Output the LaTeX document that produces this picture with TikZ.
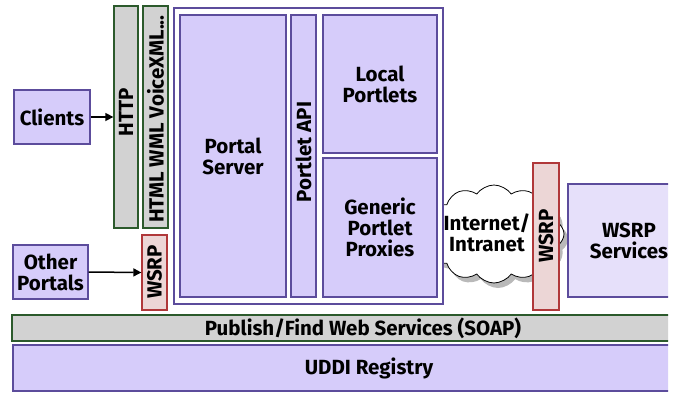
\documentclass[tikz,border=0pt]{standalone}
\usepackage{fontspec}
\setmainfont{Fira Sans}
\usetikzlibrary{shapes.symbols,shadows,arrows.meta}
\definecolor{pfill}{RGB}{214,204,250}
\definecolor{pline}{RGB}{92,76,156}
\definecolor{sfill}{RGB}{230,224,250}
\definecolor{gfill}{RGB}{210,210,210}
\definecolor{gline}{RGB}{44,90,44}
\definecolor{wfill}{RGB}{236,214,214}
\definecolor{wline}{RGB}{176,56,58}
\tikzset{
  lbl/.style={font=\fontsize{20.5}{21}\selectfont\bfseries, align=center, text=black},
  pbox/.style={draw=pline, fill=pfill, line width=1.3pt, rectangle, inner sep=0pt, lbl},
  gbar/.style={draw=gline, fill=gfill, line width=1.3pt, rectangle, inner sep=0pt, lbl},
  wbar/.style={draw=wline, fill=wfill, line width=1.3pt, rectangle, inner sep=0pt, lbl},
  vtext/.style={lbl, rotate=90, inner sep=0pt},
  conn/.style={-{Triangle[length=8pt,width=8pt]}, line width=1.5pt}
}
\begin{document}
\begin{tikzpicture}[x=1pt,y=-1pt]
\useasboundingbox (0,0) rectangle (678,392);
\begin{scope}
\clip (0,0) rectangle (668,392);
% cloud
\node[cloud, cloud puffs=12, cloud puff arc=110, draw=black, line width=0.8pt, fill=white,
      minimum width=140pt, minimum height=98pt, inner sep=0pt,
      drop shadow={shadow xshift=4pt, shadow yshift=-5pt, fill=black!55}] (cloud) at (494,234) {};
\node[lbl] (net) at (487,233) {Internet/\\Intranet};
% portal container
\node[draw=pline, fill=white, line width=1.3pt, rectangle, inner sep=0pt,
      minimum width=269pt, minimum height=296pt] (portal) at (308.5,156) {};
\node[pbox, minimum width=106pt, minimum height=282pt] (server) at (233,156) {Portal\\Server};
\node[pbox, minimum width=25pt, minimum height=282pt] (api) at (303.5,156) {};
\node[vtext] at (303.5,152) {Portlet API};
\node[pbox, minimum width=114pt, minimum height=138pt] (local) at (380,84) {Local\\Portlets};
\node[pbox, minimum width=114pt, minimum height=139pt] (generic) at (380,227.5) {Generic\\Portlet\\Proxies};
% clients
\node[pbox, minimum width=76pt, minimum height=54pt] (clients) at (52,117) {Clients};
\node[pbox, minimum width=75pt, minimum height=54pt] (other) at (50.5,272) {Other\\Portals};
% protocol bars
\node[gbar, minimum width=24pt, minimum height=222pt] (http) at (126,117) {};
\node[vtext] at (126,112) {HTTP};
\node[gbar, minimum width=25pt, minimum height=222pt] (html) at (155.5,117) {};
\begin{scope}
\clip (143.5,6.7) rectangle (167.5,227.3);
\node[vtext, anchor=west] at (155.5,223) {HTML WML VoiceXML...};
\end{scope}
\node[wbar, minimum width=25pt, minimum height=75pt] (wsrpl) at (154.5,272.5) {};
\node[vtext] at (154.5,272) {WSRP};
% right side
\node[wbar, minimum width=26pt, minimum height=147pt] (wsrpr) at (546,236.5) {};
\node[vtext] at (546,236) {WSRP};
\node[draw=pline, fill=sfill, line width=1.3pt, rectangle, inner sep=0pt, lbl,
      minimum width=122pt, minimum height=113pt] (services) at (629,240.5) {WSRP\\Services};
% bottom bars
\node[gbar, minimum width=702pt, minimum height=26pt] (soap) at (363,328) {Publish/Find Web Services (SOAP)};
\node[pbox, minimum width=712pt, minimum height=46pt] (uddi) at (369,368) {UDDI Registry};
% connectors
\draw[conn] (clients.east) -- (http.west);
\draw[conn] (other.east) -- (wsrpl.west);
\end{scope}
\end{tikzpicture}
\end{document}
